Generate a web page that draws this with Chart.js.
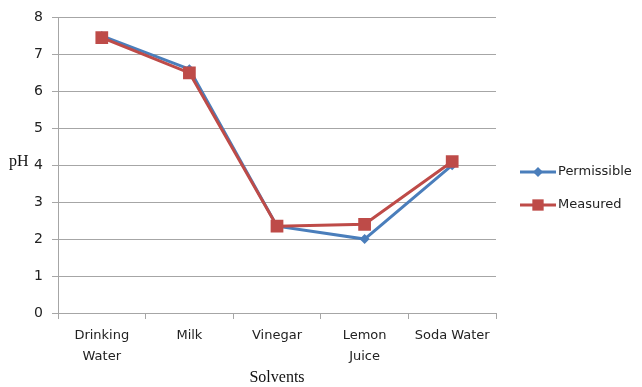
<!DOCTYPE html>
<html>
<head>
<meta charset="utf-8">
<script src="https://cdn.jsdelivr.net/npm/chart.js@4/dist/chart.umd.min.js"></script>
<style>
  html, body { margin: 0; padding: 0; background: #fff; }
  #wrap { position: relative; width: 642px; height: 387px; }
</style>
</head>
<body>
<div id="wrap"><canvas id="c" width="642" height="387"></canvas></div>
<script>
// Solvent categories (multi-line labels)
const categories = [['Drinking', 'Water'], 'Milk', 'Vinegar', ['Lemon', 'Juice'], 'Soda Water'];
// pH values
const permissible = [7.5, 6.6, 2.35, 2.0, 4.0];
const measured = [7.45, 6.5, 2.35, 2.4, 4.1];
const yTicks = [0, 1, 2, 3, 4, 5, 6, 7, 8];

const BLUE = '#4a7ebb';
const RED = '#be4b48';
const GRID = '#a6a6a6';
const TEXT = '#222222';

// Draws the axis titles and the side legend
const extras = {
  id: 'extras',
  afterDraw(chart) {
    const ctx = chart.ctx;
    const area = chart.chartArea;
    ctx.save();
    ctx.fillStyle = '#111';
    ctx.font = '16px "Liberation Serif"';
    ctx.textAlign = 'left';
    ctx.textBaseline = 'middle';
    ctx.fillText('pH', 9, 162);
    ctx.textAlign = 'center';
    ctx.fillText('Solvents', (area.left + area.right) / 2, 378);

    chart.data.datasets.forEach((ds, i) => {
      const y = 172 + i * 33;
      const x0 = 520, x1 = 556;
      ctx.strokeStyle = ds.borderColor;
      ctx.lineWidth = 3;
      ctx.beginPath();
      ctx.moveTo(x0, y);
      ctx.lineTo(x1, y);
      ctx.stroke();
      ctx.fillStyle = ds.backgroundColor;
      ctx.strokeStyle = ds.backgroundColor;
      ctx.lineWidth = 0;
      Chart.helpers.drawPoint(ctx, {
        pointStyle: ds.pointStyle,
        radius: ds.legendRadius,
        borderWidth: 0
      }, (x0 + x1) / 2, y);
      ctx.fillStyle = TEXT;
      ctx.font = '13px "DejaVu Sans"';
      ctx.textAlign = 'left';
      ctx.fillText(ds.label, x1 + 2, y);
    });
    ctx.restore();
  }
};

new Chart(document.getElementById('c'), {
  type: 'line',
  data: {
    labels: categories,
    datasets: [
      {
        label: 'Permissible',
        data: permissible,
        borderColor: BLUE,
        backgroundColor: BLUE,
        borderWidth: 3,
        pointStyle: 'rectRot',
        pointRadius: 5,
        pointBorderWidth: 0,
        legendRadius: 5,
        tension: 0,
        order: 1
      },
      {
        label: 'Measured',
        data: measured,
        borderColor: RED,
        backgroundColor: RED,
        borderWidth: 3,
        pointStyle: 'rect',
        pointRadius: 9,
        pointBorderWidth: 0,
        legendRadius: 8,
        tension: 0,
        order: 0
      }
    ]
  },
  options: {
    responsive: false,
    animation: false,
    devicePixelRatio: 1,
    layout: { padding: { left: 0, right: 146, top: 16, bottom: 0 } },
    plugins: {
      legend: { display: false },
      tooltip: { enabled: false }
    },
    scales: {
      x: {
        offset: true,
        grid: {
          offset: true,
          drawOnChartArea: false,
          drawTicks: true,
          tickLength: 6,
          color: GRID
        },
        border: { color: GRID, width: 1 },
        ticks: {
          color: TEXT,
          font: { family: 'DejaVu Sans', size: 13, lineHeight: 1.55 },
          padding: 7,
          maxRotation: 0,
          autoSkip: false
        },
        afterFit(scale) { scale.height = 74; }
      },
      y: {
        min: 0,
        max: 8,
        afterBuildTicks(scale) { scale.ticks = yTicks.map(v => ({ value: v })); },
        grid: {
          color: GRID,
          tickLength: 6,
          lineWidth: 1
        },
        border: { color: GRID, width: 1 },
        ticks: {
          color: TEXT,
          font: { family: 'DejaVu Sans', size: 14 },
          padding: 9
        },
        afterFit(scale) { scale.width = 58; }
      }
    }
  },
  plugins: [extras]
});
</script>
</body>
</html>
